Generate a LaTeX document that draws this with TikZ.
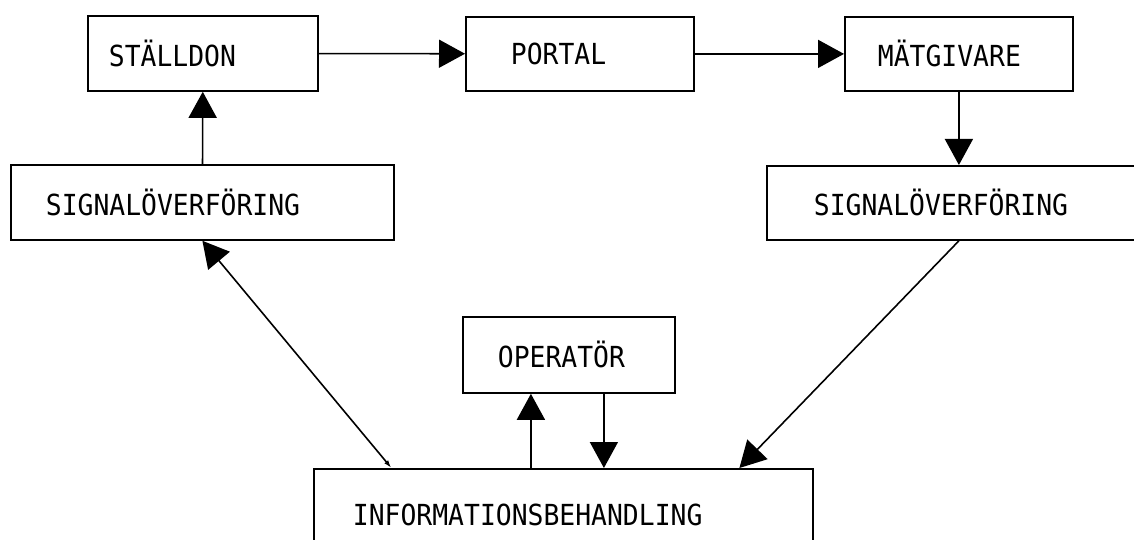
\documentclass[tikz,border=0pt]{standalone}
\usepackage{fontspec}
\newfontfamily\typfont{DejaVu Sans Mono}[FakeStretch=0.91]
\usetikzlibrary{arrows.meta}
\tikzstyle{blok}=[
	rectangle,
	draw,
	line width=1.8pt,
	anchor=north west,
	align=left,
	inner ysep=0pt,
	font=\typfont\fontsize{29pt}{32pt}\selectfont
]
\tikzstyle{pil}=[
	->,
	line width=1.6pt,
	>={Triangle[length=26pt,width=28pt]}
]

\begin{document}
\begin{tikzpicture}[x=1pt,y=-1pt]
\useasboundingbox (0,0) rectangle (1134,540);
\clip (0,0) rectangle (1134,540);
\node [blok, text width=188pt, inner xsep=21pt, minimum height=75pt] (Stalldon) at (87,15) {STÄLLDON};
\node [blok, text width=138pt, inner xsep=45pt, minimum height=74pt] (Portal) at (465,16) {PORTAL};
\node [blok, text width=162pt, inner xsep=33pt, minimum height=74pt] (Matgivare) at (844,16) {MÄTGIVARE};
\node [blok, text width=313pt, inner xsep=35pt, minimum height=75pt] (SignalV) at (10,164) {SIGNALÖVERFÖRING};
\node [blok, text width=290pt, inner xsep=47pt, minimum height=74pt] (SignalH) at (766,165) {SIGNALÖVERFÖRING};
\node [blok, text width=142pt, inner xsep=35pt, minimum height=76pt] (Operator) at (462,316) {OPERATÖR};
\node [blok, text width=421pt, inner xsep=39pt, minimum height=92pt] (Info) at (313,468) {INFORMATIONSBEHANDLING};
\coordinate (OpUt) at ([xshift=-38pt]Operator.south);
\coordinate (OpIn) at ([xshift=35pt]Operator.south);
\draw [pil] (Stalldon) -- (Portal);
\draw [pil] (Portal) -- (Matgivare);
\draw [pil] (Matgivare) -- (Matgivare |- SignalH.north);
\draw [pil] (SignalV) -- (Stalldon);
\draw [pil] (SignalH.south) -- ([xshift=176pt]Info.north);
\draw [pil, {Triangle[length=26pt,width=28pt]}-{Latex[length=8pt,width=5pt]}] (SignalV.south) -- ([xshift=-172pt]Info.north);
\draw [pil] (OpUt |- Info.north) -- (OpUt);
\draw [pil] (OpIn) -- (OpIn |- Info.north);
\end{tikzpicture}
\end{document}
